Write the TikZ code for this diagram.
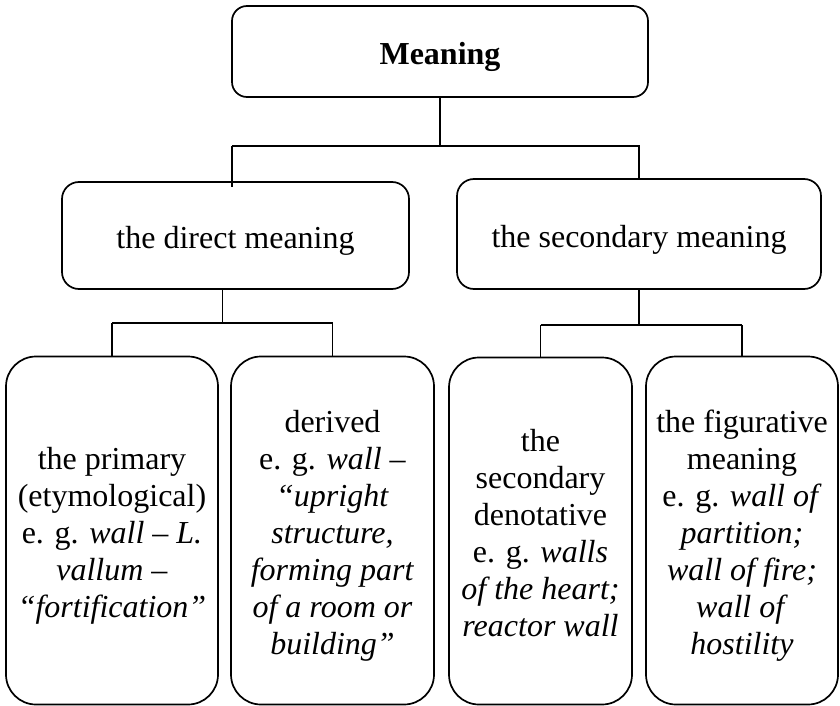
\documentclass[tikz,border=0pt]{standalone}
\usepackage{fontspec}
\setmainfont{Liberation Serif}
% centred block of lines, set slightly below the middle of its box
\newcommand{\boxtext}[1]{\raisebox{-6pt}[\height][\depth]{\begin{tabular}{@{}c@{}}#1\end{tabular}}}
\begin{document}
\begin{tikzpicture}[x=1pt,y=-1pt,
  box/.style={draw,line width=1.7pt,rounded corners=#1,inner sep=0pt,
    font=\fontsize{32}{37}\selectfont},
  box/.default=16pt,
  conn/.style={line width=1.4pt}]
\useasboundingbox (0,0) rectangle (840,706);

% root
\node[box=15pt,minimum width=416pt,minimum height=91pt]
  (top) at (440,51.5) {\boxtext{\bfseries Meaning}};

% second level
\node[box=17pt,minimum width=347pt,minimum height=107pt]
  (direct) at (235.5,235.5) {\boxtext{the direct meaning}};
\node[box=17pt,minimum width=364pt,minimum height=110pt]
  (secondary) at (639,234) {\boxtext{the secondary meaning}};

% leaves
\node[box=30pt,minimum width=212pt,minimum height=348pt]
  (primary) at (112,530.5)
  {\boxtext{the primary\\(etymological)\\e. g. \textit{wall – L.}\\\textit{vallum –}\\\textit{“fortification”}}};
\node[box=30pt,minimum width=203pt,minimum height=348pt]
  (derived) at (332.5,530.5)
  {\boxtext{derived\\e. g. \textit{wall –}\\\textit{“upright}\\\textit{structure,}\\\textit{forming part}\\\textit{of a room or}\\\textit{building”}}};
\node[box=30pt,minimum width=183pt,minimum height=347pt]
  (denot) at (540.5,531)
  {\boxtext{the\\secondary\\denotative\\e. g. \textit{walls}\\\textit{of the heart;}\\\textit{reactor wall}}};
\node[box=30pt,minimum width=192pt,minimum height=348pt]
  (figur) at (742,530.5)
  {\boxtext{the figurative\\meaning\\e. g. \textit{wall of}\\\textit{partition;}\\\textit{wall of fire;}\\\textit{wall of}\\\textit{hostility}}};

% junction bars
\coordinate (barA) at (0,146);
\coordinate (barAl) at (232,146);
\coordinate (barAr) at (640,146);
\coordinate (barB) at (222.5,323);
\coordinate (barC) at (640,325);

% root -> second level
\draw[conn] (top.south) -- (top.south |- barA);
\draw[conn] (barAl) -- (barAr);
\draw[conn] (barAl) -- ([yshift=-6pt]barAl |- direct.north);
\draw[conn] (secondary.north |- barA) -- (secondary.north);

% direct meaning -> leaves
\draw[conn] (barB |- direct.south) -- (barB);
\draw[conn] (primary.north |- barB) -- (derived.north |- barB);
\draw[conn] (primary.north |- barB) -- (primary.north);
\draw[conn] (derived.north |- barB) -- (derived.north);

% secondary meaning -> leaves
\draw[conn] (secondary.south) -- (secondary.south |- barC);
\draw[conn] (denot.north |- barC) -- (figur.north |- barC);
\draw[conn] (denot.north |- barC) -- (denot.north);
\draw[conn] (figur.north |- barC) -- (figur.north);
\end{tikzpicture}
\end{document}
